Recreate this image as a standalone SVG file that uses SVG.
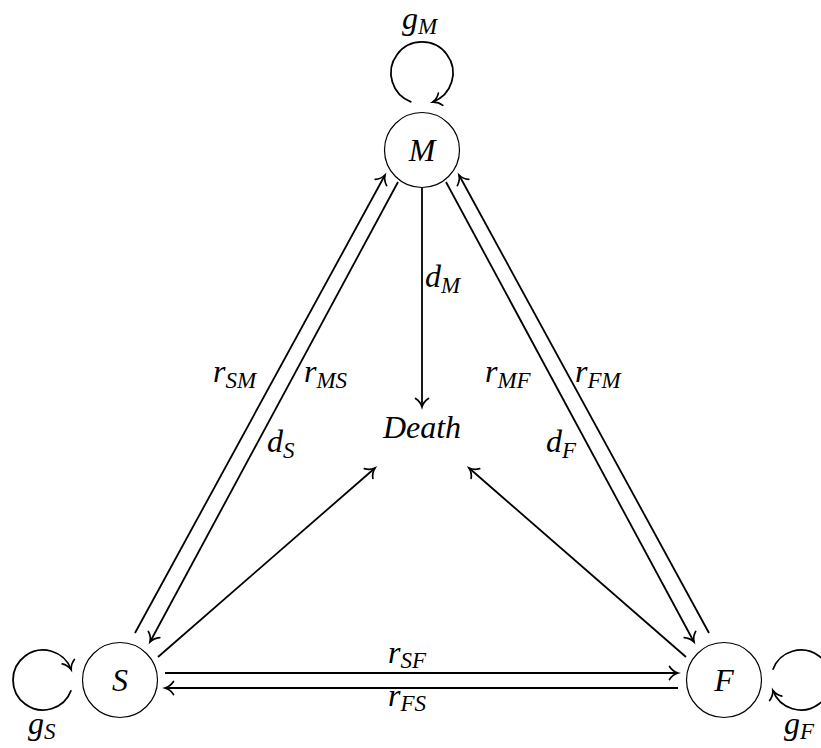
<svg xmlns="http://www.w3.org/2000/svg" width="821" height="748" viewBox="0 0 821 748">
<defs>
<marker id="arr" markerUnits="userSpaceOnUse" markerWidth="20" markerHeight="20" refX="0" refY="0" viewBox="-10 -10 20 20" orient="auto" overflow="visible">
<path d="M-8.5,-6.5 C-6,-2.5 -2,-0.6 0,0 C-2,0.6 -6,2.5 -8.5,6.5" fill="none" stroke="#000" stroke-width="1.7" stroke-linecap="round"/>
</marker>
</defs>
<style>
.node circle{fill:#fff;stroke:#000;stroke-width:1.2}
.t{font-family:"Liberation Serif","DejaVu Serif",serif;font-style:italic;font-size:32px;fill:#000}
.s{font-size:23px}
.e{fill:none;stroke:#000;stroke-width:1.8;marker-end:url(#arr)}
</style>
<g id="connectors">
<path class="e" d="M135,633 L385,175"/>
<path class="e" d="M398,182 L150,642"/>
<path class="e" d="M709,633 L459,175"/>
<path class="e" d="M446,182 L694,642"/>
<path class="e" d="M165,673 L678,673"/>
<path class="e" d="M678,688 L165,688"/>
<path class="e" d="M422,188 L422,407"/>
<path class="e" d="M158,657 L375,468"/>
<path class="e" d="M686,657 L469,468"/>
<path class="e" d="M411.4,102.1 A31,31 0 1 1 432.6,102.1"/>
<path class="e" d="M71.2,690.3 A30,30 0 1 1 71.2,669.7"/>
<path class="e" d="M772.8,669.7 A30,30 0 1 1 772.8,690.3"/>
</g>
<g id="labels">
<text class="t" x="402" y="29">g<tspan class="s" dy="5">M</tspan></text>
<text class="t" x="28" y="734">g<tspan class="s" dy="5">S</tspan></text>
<text class="t" x="784" y="734">g<tspan class="s" dy="5">F</tspan></text>
<text class="t" x="213" y="382">r<tspan class="s" dy="6">SM</tspan></text>
<text class="t" x="304" y="382">r<tspan class="s" dy="6">MS</tspan></text>
<text class="t" x="485" y="382">r<tspan class="s" dy="6">MF</tspan></text>
<text class="t" x="575" y="382">r<tspan class="s" dy="6">FM</tspan></text>
<text class="t" x="425" y="287">d<tspan class="s" dy="6">M</tspan></text>
<text class="t" x="267" y="452">d<tspan class="s" dy="6">S</tspan></text>
<text class="t" x="546" y="452">d<tspan class="s" dy="6">F</tspan></text>
<text class="t" x="388" y="663">r<tspan class="s" dy="5">SF</tspan></text>
<text class="t" x="388" y="706">r<tspan class="s" dy="5">FS</tspan></text>
</g>
<g id="node-M" class="node"><circle cx="422" cy="150" r="37.5"/><text class="t" x="422" y="161" text-anchor="middle">M</text></g>
<g id="node-S" class="node"><circle cx="120" cy="680" r="37.5"/><text class="t" x="120" y="691" text-anchor="middle">S</text></g>
<g id="node-F" class="node"><circle cx="724" cy="680" r="37.5"/><text class="t" x="724" y="691" text-anchor="middle">F</text></g>
<g id="node-Death"><text class="t" x="422" y="438" text-anchor="middle" font-size="35">Death</text></g>
</svg>
